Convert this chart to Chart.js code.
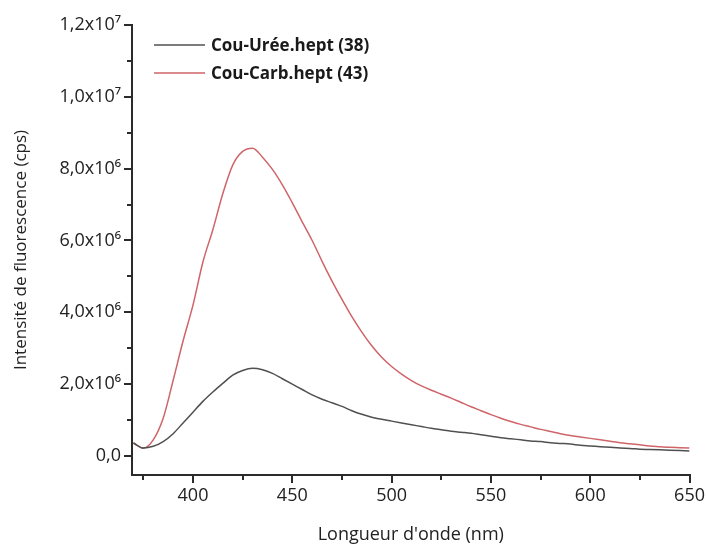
<!DOCTYPE html>
<html>
<head>
<meta charset="utf-8">
<script src="https://cdn.jsdelivr.net/npm/chart.js@4"></script>
<style>
  html, body { margin: 0; padding: 0; background: #fff; }
  #wrap { width: 707px; height: 546px; }
</style>
</head>
<body>
<div id="wrap"><canvas id="chart" width="707" height="546"></canvas></div>
<script>
// wavelengths (nm)
const wavelengths = [370,375,380,385,390,395,400,405,410,415,420,425,430,435,440,445,450,455,460,465,
  470,475,480,485,490,495,500,505,510,515,520,525,530,535,540,545,550,555,560,565,570,575,580,585,
  590,595,600,605,610,615,620,625,630,635,640,645,650];

// intensities, in units of 1e6 cps
const ureeValues = [0.36,0.22,0.27,0.40,0.62,0.92,1.22,1.52,1.78,2.02,2.25,2.38,2.44,2.40,2.30,2.15,2.00,1.85,1.70,1.58,
  1.48,1.38,1.26,1.16,1.08,1.02,0.97,0.92,0.87,0.82,0.77,0.73,0.69,0.66,0.63,0.59,0.55,0.51,0.48,0.45,0.42,0.40,0.37,0.35,
  0.33,0.30,0.28,0.26,0.24,0.22,0.21,0.19,0.18,0.17,0.16,0.15,0.14];
const carbValues = [0.36,0.22,0.45,1.05,2.10,3.20,4.20,5.40,6.30,7.30,8.10,8.48,8.57,8.32,7.98,7.55,7.05,6.52,6.00,5.42,
  4.87,4.36,3.88,3.45,3.07,2.75,2.49,2.28,2.10,1.95,1.83,1.72,1.61,1.49,1.37,1.26,1.15,1.05,0.96,0.88,0.81,0.74,0.68,0.62,
  0.57,0.53,0.49,0.45,0.41,0.37,0.34,0.31,0.28,0.26,0.24,0.23,0.22];

const seriesLabels = ["Cou-Urée.hept (38)", "Cou-Carb.hept (43)"];
const seriesColors = ["#505050", "#cf6469"];

const xMajor = [400, 450, 500, 550, 600, 650];
const xMinor = [375, 425, 475, 525, 575, 625];
const yMajor = [0, 2e6, 4e6, 6e6, 8e6, 1e7, 1.2e7];
const yMinor = [1e6, 3e6, 5e6, 7e6, 9e6, 1.1e7];

const FONT = "'Open Sans', 'Noto Sans', sans-serif";
const AXIS = "#2b2b2b";

const sup = { "6": "\u2076", "7": "\u2077" };
function sciLabel(v) {
  if (v === 0) return "0,0";
  const e = Math.floor(Math.log10(v) + 1e-9);
  const m = (v / Math.pow(10, e)).toFixed(1).replace(".", ",");
  return m + "x10" + sup[String(e)];
}

function toPoints(vals) {
  return wavelengths.map((w, i) => ({ x: w, y: vals[i] * 1e6 }));
}

// minor ticks + legend drawn on top
const extras = {
  id: "extras",
  afterDraw(chart) {
    const c = chart.ctx;
    const xs = chart.scales.x, ys = chart.scales.y;
    const area = chart.chartArea;
    c.save();
    c.strokeStyle = AXIS;
    c.lineWidth = 2;
    xMinor.forEach(v => {
      const px = Math.round(xs.getPixelForValue(v));
      c.beginPath(); c.moveTo(px, area.bottom); c.lineTo(px, area.bottom + 5); c.stroke();
    });
    yMinor.forEach(v => {
      const py = Math.round(ys.getPixelForValue(v));
      c.beginPath(); c.moveTo(area.left, py); c.lineTo(area.left - 5, py); c.stroke();
    });
    // legend
    c.font = "bold 17px " + FONT;
    c.textBaseline = "middle";
    chart.data.datasets.forEach((ds, i) => {
      const y = 45 + i * 28;
      c.strokeStyle = ds.borderColor;
      c.lineWidth = 1.5;
      c.beginPath(); c.moveTo(154, y); c.lineTo(205, y); c.stroke();
      c.fillStyle = "#1a1a1a";
      c.fillText(ds.label, 211, y + 1);
    });
    c.restore();
  }
};

new Chart(document.getElementById("chart"), {
  type: "line",
  data: {
    datasets: [
      { label: seriesLabels[0], data: toPoints(ureeValues), borderColor: seriesColors[0], borderWidth: 1.5,
        pointRadius: 0, cubicInterpolationMode: "monotone", fill: false },
      { label: seriesLabels[1], data: toPoints(carbValues), borderColor: seriesColors[1], borderWidth: 1.5,
        pointRadius: 0, cubicInterpolationMode: "monotone", fill: false }
    ]
  },
  options: {
    responsive: false,
    animation: false,
    layout: { padding: { top: 25, right: 17, left: 0, bottom: 0 } },
    plugins: { legend: { display: false }, tooltip: { enabled: false } },
    scales: {
      x: {
        type: "linear",
        min: 369.3,
        max: 650,
        afterBuildTicks: s => { s.ticks = xMajor.map(v => ({ value: v })); },
        afterFit: s => { s.height = 71; },
        border: { display: true, color: AXIS, width: 2 },
        grid: { drawOnChartArea: false, drawTicks: true, tickLength: 8, color: AXIS, lineWidth: 2 },
        ticks: { color: "#222", font: { family: FONT, size: 18 }, padding: 2, maxRotation: 0 },
        title: { display: true, text: "Longueur d'onde (nm)", color: "#222",
                 font: { family: FONT, size: 18 }, padding: { top: 9, bottom: 0 } }
      },
      y: {
        type: "linear",
        min: -0.53e6,
        max: 1.2e7,
        afterBuildTicks: s => { s.ticks = yMajor.map(v => ({ value: v })); },
        afterFit: s => { s.width = 132; },
        border: { display: true, color: AXIS, width: 2 },
        grid: { drawOnChartArea: false, drawTicks: true, tickLength: 8, color: AXIS, lineWidth: 2 },
        ticks: { color: "#222", font: { family: FONT, size: 18 }, padding: 3, callback: v => sciLabel(v) },
        title: { display: true, text: "Intensité de fluorescence (cps)", color: "#222",
                 font: { family: FONT, size: 17 }, padding: { top: 11, bottom: 0 } }
      }
    }
  },
  plugins: [extras]
});
</script>
</body>
</html>
